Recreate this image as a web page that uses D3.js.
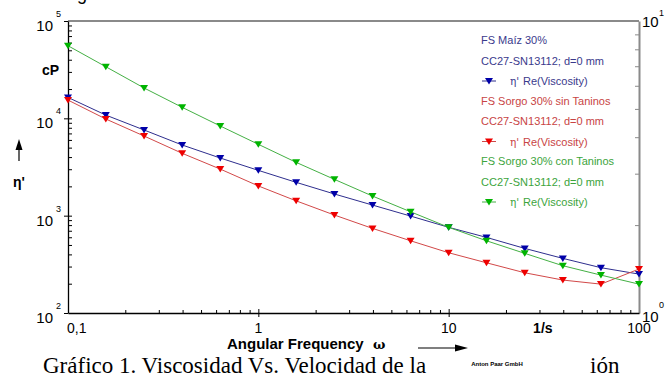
<!DOCTYPE html>
<html>
<head>
<meta charset="utf-8">
<script src="https://cdn.jsdelivr.net/npm/d3@7"></script>
<style>
  body { margin: 0; background: #fff; }
  text { font-family: "Liberation Sans", Arial, sans-serif; }
</style>
</head>
<body>
<div class="chart"></div>
<script>
var svgWidth = 671;
var svgHeight = 373;

var margin = { top: 21, right: 32, bottom: 60, left: 68 };
var width = svgWidth - margin.left - margin.right;
var height = svgHeight - margin.top - margin.bottom;

// angular frequency (1/s)
var omega = [0.1, 0.158, 0.251, 0.398, 0.631, 1, 1.58, 2.51, 3.98, 6.31, 10, 15.8, 25.1, 39.8, 63.1, 100];
// eta' (cP)
var maiz = [16400, 10800, 7590, 5320, 3910, 2920, 2200, 1670, 1285, 990, 759, 598, 461, 364, 292, 251];
var sinTaninos = [15400, 9840, 6580, 4370, 3010, 2020, 1420, 1015, 740, 552, 416, 328, 259, 218, 198, 283];
var conTaninos = [55700, 33900, 20500, 12970, 8340, 5410, 3530, 2360, 1590, 1096, 759, 552, 410, 306, 245, 198];

var seriesNames = ["FS  Maíz 30%", "FS Sorgo 30% sin Taninos", "FS Sorgo 30% con Taninos"];
var probeLabel = "CC27-SN13112; d=0 mm";
var xTickLabels = ["0,1", "1", "10", "100"];

var series = [
  { name: seriesNames[0], values: maiz, line: "#2e2e8e", mark: "#0000a8", text: "#3a3a8c" },
  { name: seriesNames[1], values: sinTaninos, line: "#d24848", mark: "#ee0000", text: "#c84444" },
  { name: seriesNames[2], values: conTaninos, line: "#44b044", mark: "#00b400", text: "#3ca43c" }
];

var svg = d3.select(".chart")
  .append("svg")
  .attr("width", svgWidth)
  .attr("height", svgHeight);

var chart = svg.append("g")
  .attr("transform", "translate(" + margin.left + "," + margin.top + ")");

var x = d3.scaleLog().domain([0.1, 100]).range([0, width]);
var y = d3.scaleLog().domain([100, 1e5]).range([height, 0]);
var y2 = d3.scaleLog().domain([1, 10]).range([height, 0]);

function minorTicks(lo, hi) {
  var out = [];
  for (var d = lo; d < hi; d *= 10) {
    for (var k = 2; k <= 9; k++) out.push(d * k);
  }
  return out;
}

// top frame
chart.append("line")
  .attr("x1", 0).attr("x2", width)
  .attr("y1", 0).attr("y2", 0)
  .attr("stroke", "#8a8a8a").attr("stroke-width", 2);

// right axis (grey)
var right = chart.append("g")
  .attr("transform", "translate(" + width + ",0)")
  .call(d3.axisRight(y2).tickValues(minorTicks(1, 10)).tickSize(-4).tickSizeOuter(0).tickFormat(""));
right.select(".domain").attr("stroke", "#8a8a8a").attr("stroke-width", 2);
right.selectAll(".tick line").attr("stroke", "#8a8a8a");

// left axis
var left = chart.append("g")
  .call(d3.axisLeft(y).tickValues(minorTicks(100, 1e5)).tickSize(-4).tickSizeOuter(0).tickFormat(""));
left.select(".domain").attr("stroke", "#000").attr("stroke-width", 1.3);
chart.append("g")
  .call(d3.axisLeft(y).tickValues([100, 1000, 1e4, 1e5]).tickSize(4).tickFormat(""))
  .call(function(g) { g.select(".domain").remove(); });
chart.append("g")
  .call(d3.axisLeft(y).tickValues([1000, 1e4]).tickSize(-4).tickFormat(""))
  .call(function(g) { g.select(".domain").remove(); });

// bottom axis
var bottom = chart.append("g")
  .attr("transform", "translate(0," + height + ")")
  .call(d3.axisBottom(x).tickValues(minorTicks(0.1, 100)).tickSize(-3).tickSizeOuter(0).tickFormat(""));
bottom.select(".domain").attr("stroke", "#000").attr("stroke-width", 1.3);
chart.append("g")
  .attr("transform", "translate(0," + height + ")")
  .call(d3.axisBottom(x).tickValues([1, 10]).tickSize(4).tickFormat(""))
  .call(function(g) { g.select(".domain").remove(); });
chart.append("g")
  .attr("transform", "translate(0," + height + ")")
  .call(d3.axisBottom(x).tickValues([1, 10]).tickSize(-4).tickFormat(""))
  .call(function(g) { g.select(".domain").remove(); });

// y tick labels 10^n
[2, 3, 4, 5].forEach(function(n) {
  chart.append("text")
    .attr("x", -15).attr("y", y(Math.pow(10, n)) + 10)
    .attr("text-anchor", "end")
    .style("font-size", "15px")
    .text("10");
  chart.append("text")
    .attr("x", -12).attr("y", y(Math.pow(10, n)) - 4)
    .style("font-size", "9px")
    .text(n);
});

// right tick labels
[0, 1].forEach(function(n) {
  chart.append("text")
    .attr("x", width + 3).attr("y", y2(Math.pow(10, n)) + (n === 0 ? 9 : 6))
    .style("font-size", "15px")
    .text("10");
  chart.append("text")
    .attr("x", width + 20).attr("y", y2(Math.pow(10, n)) - 5)
    .style("font-size", "9px")
    .text(n);
});

// x tick labels
[0.1, 1, 10, 100].forEach(function(v, i) {
  chart.append("text")
    .attr("x", i === 0 ? x(v) - 1 : x(v))
    .attr("y", height + 20)
    .attr("text-anchor", i === 0 ? "start" : "middle")
    .style("font-size", "14px")
    .text(xTickLabels[i]);
});
chart.append("text")
  .attr("x", x(39.8) - 20).attr("y", height + 20)
  .attr("text-anchor", "middle")
  .style("font-size", "14px").style("font-weight", "bold")
  .text("1/s");

// lines and markers
var line = d3.line()
  .x(function(d, i) { return x(omega[i]); })
  .y(function(d) { return y(d); });

var tri = "M-4,-3L4,-3L0,3.5Z";

series.forEach(function(s) {
  chart.append("path")
    .datum(s.values)
    .attr("d", line)
    .attr("fill", "none")
    .attr("stroke", s.line)
    .attr("stroke-width", 1);
  chart.selectAll(null)
    .data(s.values)
    .enter().append("path")
      .attr("d", tri)
      .attr("transform", function(d, i) { return "translate(" + x(omega[i]) + "," + y(d) + ")"; })
      .attr("fill", s.mark);
});

// legend
var legend = svg.append("g").attr("transform", "translate(481,0)");
series.forEach(function(s, i) {
  var base = 44 + i * 60.5;
  legend.append("text").attr("x", 0).attr("y", base)
    .style("font-size", "11px").attr("fill", s.text).text(s.name);
  legend.append("text").attr("x", 0).attr("y", base + 20.5)
    .style("font-size", "11px").attr("fill", s.text).text(probeLabel);
  var my = base + 37;
  legend.append("line").attr("x1", 1).attr("x2", 15).attr("y1", my).attr("y2", my)
    .attr("stroke", s.line);
  legend.append("path").attr("d", tri).attr("transform", "translate(8," + my + ")").attr("fill", s.mark);
  legend.append("text").attr("x", 29).attr("y", base + 41)
    .style("font-size", "10.5px").style("font-family", "DejaVu Serif").attr("fill", s.text).text("η'");
  legend.append("text").attr("x", 42).attr("y", base + 41)
    .style("font-size", "11px").attr("fill", s.text).text("Re(Viscosity)");
});

// axis titles
svg.append("text")
  .attr("x", 42).attr("y", 75)
  .style("font-size", "14px").style("font-weight", "bold")
  .text("cP");

svg.append("text")
  .attr("x", 13).attr("y", 187)
  .style("font-size", "14px").style("font-weight", "bold")
  .text("η'");

svg.append("line")
  .attr("x1", 19).attr("x2", 19).attr("y1", 161).attr("y2", 147)
  .attr("stroke", "#000").attr("stroke-width", 1.2);
svg.append("path")
  .attr("d", "M15.5,150L19,139L22.5,150Z")
  .attr("fill", "#000");

svg.append("text")
  .attr("x", 227).attr("y", 349)
  .style("font-size", "15px").style("font-weight", "bold")
  .text("Angular Frequency");
svg.append("text")
  .attr("x", 373).attr("y", 349)
  .style("font-family", "DejaVu Serif")
  .style("font-size", "13px").style("font-weight", "bold")
  .text("ω");

svg.append("line")
  .attr("x1", 418).attr("x2", 456).attr("y1", 348).attr("y2", 348)
  .attr("stroke", "#000").attr("stroke-width", 1.2);
svg.append("path")
  .attr("d", "M455,344.5L468,348L455,351.5Z")
  .attr("fill", "#000");

// cut-off title fragment at the top
svg.append("text")
  .attr("x", 77).attr("y", 0)
  .style("font-size", "18px")
  .text("g");

// caption (partly hidden behind the chart image)
svg.append("text")
  .attr("x", 43).attr("y", 373)
  .style("font-family", "Liberation Serif")
  .style("font-size", "23px")
  .text("Gráfico 1. Viscosidad Vs. Velocidad de la");
svg.append("text")
  .attr("x", 590).attr("y", 373)
  .style("font-family", "Liberation Serif")
  .style("font-size", "23px")
  .text("ión");
svg.append("text")
  .attr("x", 497).attr("y", 366)
  .attr("text-anchor", "middle")
  .style("font-size", "6px").style("font-weight", "bold")
  .text("Anton Paar GmbH");
</script>
</body>
</html>
